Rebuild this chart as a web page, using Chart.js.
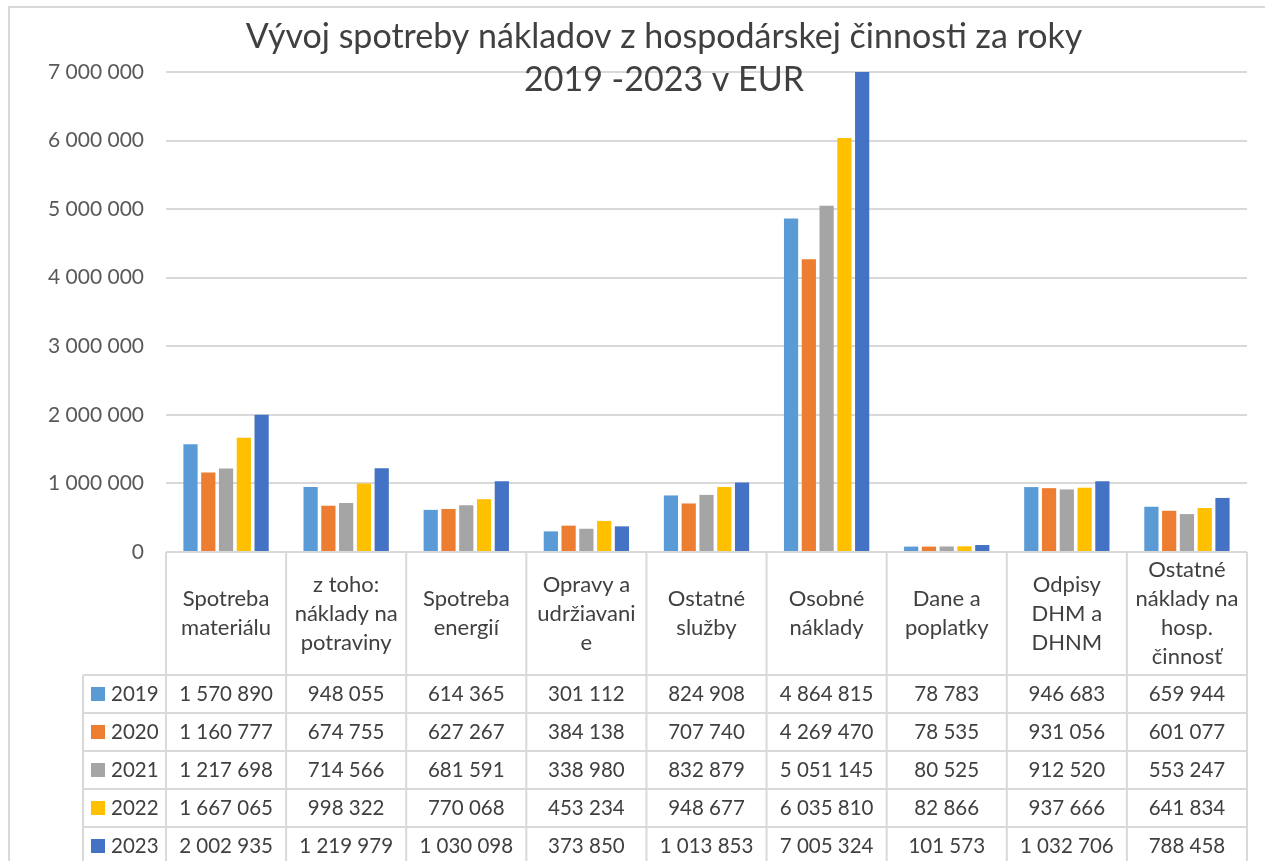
<!DOCTYPE html>
<html>
<head>
<meta charset="utf-8">
<script src="https://cdn.jsdelivr.net/npm/chart.js@4/dist/chart.umd.min.js"></script>
<style>
  body { margin: 0; background: #fff; overflow: hidden; }
  #wrap { position: relative; width: 1265px; height: 861px; }
  #graf { position: absolute; left: 4px; top: -21px; font: bold 20px Lato, sans-serif; color: #222; }
</style>
</head>
<body>
<div id="wrap">
  <div id="graf">Graf č. 60</div>
  <canvas id="chartNaklady" width="1265" height="861"></canvas>
</div>
<script>
// Kategórie (riadky popisu tak, ako sú zalomené v tabuľke)
const kategorie = [
  ['Spotreba', 'materiálu'],
  ['z toho:', 'náklady na', 'potraviny'],
  ['Spotreba', 'energií'],
  ['Opravy a', 'udržiavani', 'e'],
  ['Ostatné', 'služby'],
  ['Osobné', 'náklady'],
  ['Dane a', 'poplatky'],
  ['Odpisy', 'DHM a', 'DHNM'],
  ['Ostatné', 'náklady na', 'hosp.', 'činnosť']
];
const roky = ['2019', '2020', '2021', '2022', '2023'];
const data2019 = [1570890, 948055, 614365, 301112, 824908, 4864815, 78783, 946683, 659944];
const data2020 = [1160777, 674755, 627267, 384138, 707740, 4269470, 78535, 931056, 601077];
const data2021 = [1217698, 714566, 681591, 338980, 832879, 5051145, 80525, 912520, 553247];
const data2022 = [1667065, 998322, 770068, 453234, 948677, 6035810, 82866, 937666, 641834];
const data2023 = [2002935, 1219979, 1030098, 373850, 1013853, 7005324, 101573, 1032706, 788458];
const farby = ['#5B9BD5', '#ED7D31', '#A5A5A5', '#FFC000', '#4472C4'];
const titulok = ['Vývoj spotreby nákladov z hospodárskej činnosti za roky', '2019 -2023 v EUR'];

const serie = [data2019, data2020, data2021, data2022, data2023];
const FONT = 'Lato, "Open Sans", sans-serif';
const CIARA = '#d9d9d9';

// formát čísla s medzerou ako oddeľovačom tisícov
function fmt(n) {
  return String(n).replace(/\B(?=(\d{3})+(?!\d))/g, ' ');
}

// Rám, titulok a tabuľka s údajmi pod grafom
const tabulkaPlugin = {
  id: 'tabulka',
  beforeDraw(chart) {
    const ctx = chart.ctx;
    ctx.save();
    ctx.strokeStyle = CIARA;
    ctx.lineWidth = 2;
    ctx.beginPath();
    ctx.moveTo(9, 870); ctx.lineTo(9, 7); ctx.lineTo(1270, 7);
    ctx.stroke();
    ctx.restore();
  },
  afterDraw(chart) {
    const ctx = chart.ctx;
    const x = chart.scales.x;
    const area = chart.chartArea;
    const n = kategorie.length;
    const sirka = (area.right - area.left) / n;
    const hlavaDole = area.bottom + 123;
    const riadok = 38;
    const lavyOkraj = 83;

    ctx.save();
    // titulok
    ctx.fillStyle = '#404040';
    ctx.font = '34px ' + FONT;
    ctx.textAlign = 'center';
    ctx.textBaseline = 'middle';
    ctx.fillText(titulok[0], 664, 37);
    ctx.fillText(titulok[1], 664, 80);

    // čiary tabuľky
    ctx.strokeStyle = CIARA;
    ctx.lineWidth = 2;
    ctx.beginPath();
    ctx.moveTo(area.left, area.bottom); ctx.lineTo(area.right, area.bottom);
    for (let r = 0; r < roky.length; r++) {
      const y = hlavaDole + r * riadok;
      ctx.moveTo(lavyOkraj, y); ctx.lineTo(area.right, y);
    }
    for (let i = 0; i <= n; i++) {
      const xx = area.left + i * sirka;
      ctx.moveTo(xx, area.bottom); ctx.lineTo(xx, 870);
    }
    ctx.moveTo(lavyOkraj, hlavaDole); ctx.lineTo(lavyOkraj, 870);
    ctx.stroke();

    // hlavička s kategóriami
    ctx.fillStyle = '#404040';
    ctx.font = '22px ' + FONT;
    const lh = 29;
    kategorie.forEach((riadky, i) => {
      const cx = x.getPixelForValue(i);
      const stred = (area.bottom + hlavaDole) / 2;
      const y0 = stred - (riadky.length - 1) * lh / 2;
      riadky.forEach((t, k) => ctx.fillText(t, cx, y0 + k * lh));
    });

    // riadky s hodnotami
    ctx.font = '20.5px ' + FONT;
    roky.forEach((rok, r) => {
      const yc = hlavaDole + r * riadok + riadok / 2;
      ctx.fillStyle = farby[r];
      ctx.fillRect(91, yc - 7, 14, 14);
      ctx.fillStyle = '#404040';
      ctx.textAlign = 'left';
      ctx.fillText(rok, 111, yc);
      ctx.textAlign = 'center';
      serie[r].forEach((v, i) => ctx.fillText(fmt(v), x.getPixelForValue(i), yc));
    });
    ctx.restore();
  }
};

new Chart(document.getElementById('chartNaklady'), {
  type: 'bar',
  data: {
    labels: kategorie.map(k => k.join(' ')),
    datasets: roky.map((rok, r) => ({
      label: rok,
      data: serie[r],
      backgroundColor: farby[r],
      categoryPercentage: 0.74,
      barPercentage: 0.8
    }))
  },
  options: {
    responsive: false,
    animation: false,
    layout: { padding: { left: 0, right: 18, top: 72, bottom: 309 } },
    plugins: {
      legend: { display: false },
      title: { display: false },
      tooltip: { enabled: false }
    },
    scales: {
      x: {
        ticks: { display: false },
        grid: { display: false, drawTicks: false },
        border: { display: false }
      },
      y: {
        min: 0,
        max: 7000000,
        afterFit(scale) { scale.width = 166; },
        ticks: {
          stepSize: 1000000,
          padding: 22,
          color: '#595959',
          font: { family: FONT, size: 21 },
          callback: v => fmt(v)
        },
        grid: { color: CIARA, lineWidth: 2, drawTicks: false },
        border: { display: false }
      }
    }
  },
  plugins: [tabulkaPlugin]
});
</script>
</body>
</html>
